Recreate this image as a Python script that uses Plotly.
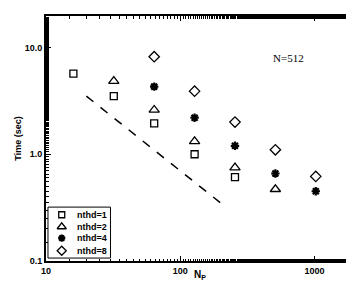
import plotly.graph_objects as go

np_vals1 = [16, 32, 64, 128, 256]
time1 = [5.7, 3.5, 1.95, 1.0, 0.61]
np_vals2 = [32, 64, 128, 256, 512]
time2 = [4.85, 2.6, 1.32, 0.75, 0.47]
np_vals4 = [64, 128, 256, 512, 1024]
time4 = [4.3, 2.2, 1.2, 0.66, 0.45]
np_vals8 = [64, 128, 256, 512, 1024]
time8 = [8.2, 3.9, 2.0, 1.1, 0.62]
ideal_x = [20, 200]
ideal_y = [3.5, 0.35]

names = ["nthd=1", "nthd=2", "nthd=4", "nthd=8"]
legend_rows = [0.85, 0.614, 0.39, 0.143]

fig = go.Figure()
fig.add_trace(go.Scatter(x=ideal_x, y=ideal_y, mode="lines",
                         line=dict(color="black", width=1.5, dash="dash"),
                         showlegend=False))
symbols = ["square-open", "triangle-up-open", "asterisk-open", "diamond-open"]
sizes = [7, 9, 7, 8]
lsizes = [6, 8, 6, 7]
lwidths = [1.3, 1.3, 2.2, 1.3]
for xs, ys, nm, sym, sz, lsz, lw, ry in zip([np_vals1, np_vals2, np_vals4, np_vals8],
                                            [time1, time2, time4, time8], names, symbols,
                                            sizes, lsizes, lwidths, legend_rows):
    fig.add_trace(go.Scatter(x=xs, y=ys, mode="markers", name=nm, showlegend=False,
                             marker=dict(color="black", symbol=sym, size=sz,
                                         line=dict(width=lw, color="black"))))
    # inset legend entry
    fig.add_trace(go.Scatter(x=[0.22], y=[ry], mode="markers", xaxis="x2", yaxis="y2",
                             showlegend=False, hoverinfo="skip",
                             marker=dict(color="black", symbol=sym, size=lsz,
                                         line=dict(width=lw, color="black"))))
    fig.add_annotation(x=0.44, y=ry, xref="x2", yref="y2", text=nm, showarrow=False,
                       xanchor="left", yanchor="middle",
                       font=dict(family="Liberation Sans", size=9, color="black", weight="bold"))

fig.add_shape(type="rect", xref="x2 domain", yref="y2 domain", x0=0, x1=1, y0=0, y1=1,
              line=dict(color="black", width=1), fillcolor="rgba(0,0,0,0)")

fig.add_annotation(x=0.84, y=0.86, xref="paper", yref="paper", text="N=512",
                   showarrow=False, font=dict(family="Liberation Serif", size=11, color="black"))
fig.add_annotation(x=0.497, y=-0.058, xref="paper", yref="paper", text="N<sub>P</sub>",
                   showarrow=False, yanchor="middle",
                   font=dict(family="Liberation Sans", size=10, color="black", weight="bold"))

axis_common = dict(showline=True, linewidth=2, linecolor="black", mirror="ticks",
                   ticks="inside", ticklen=5, tickwidth=1.2, tickcolor="black",
                   showgrid=False, zeroline=False,
                   tickfont=dict(family="Liberation Sans", size=9, color="black", weight="bold"),
                   minor=dict(ticks="inside", ticklen=2.5, tickwidth=1, tickcolor="black", showgrid=False))

fig.update_xaxes(type="log", range=[1, 3.31], tickvals=[10, 100, 1000], ticktext=["10", "100", "1000"],
                 **axis_common)
fig.update_yaxes(type="log", range=[-1, 1.295], tickvals=[0.1, 1, 10], ticktext=["0.1", "1.0", "10.0"],
                 title=dict(text="Time (sec)", standoff=2,
                            font=dict(family="Liberation Sans", size=9, color="black", weight="bold")),
                 **axis_common)

fig.update_layout(width=354, height=282, margin=dict(l=38, r=4, t=8, b=29),
                  plot_bgcolor="white", paper_bgcolor="white", showlegend=False,
                  xaxis2=dict(domain=[0.0064, 0.208], range=[0, 1], visible=False, anchor="y2"),
                  yaxis2=dict(domain=[0.012, 0.22], range=[0, 1], visible=False, anchor="x2"))
fig.write_html("out.html")
